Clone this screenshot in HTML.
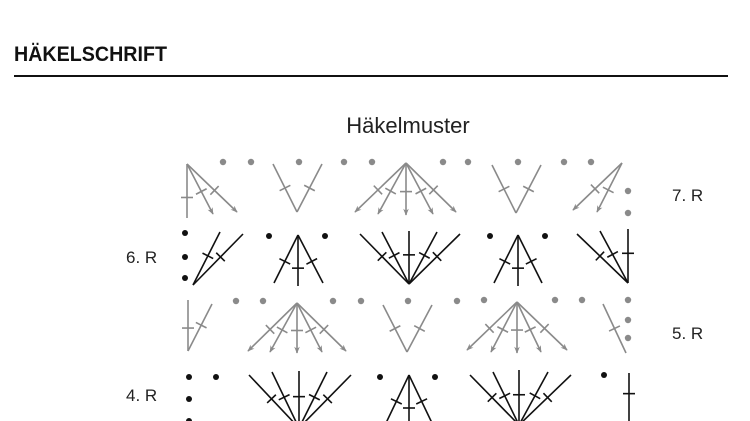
<!DOCTYPE html>
<html><head><meta charset="utf-8"><style>
html,body{margin:0;padding:0;background:#fff;width:750px;height:421px;overflow:hidden}
svg{display:block}
</style></head><body>
<svg id="s" width="750" height="421" viewBox="0 0 750 421" xmlns="http://www.w3.org/2000/svg">
<defs>
<marker id="ar" viewBox="0 0 10 10" refX="9" refY="5" markerWidth="7" markerHeight="7" orient="auto" markerUnits="userSpaceOnUse">
<path d="M0,1 L10,5 L0,9 L3,5 Z" fill="#8a8a8a"/>
</marker>
</defs>
<text x="14" y="61" font-family="Liberation Sans Narrow, Liberation Sans, sans-serif" font-weight="bold" font-size="21" fill="#111" textLength="153" lengthAdjust="spacingAndGlyphs">HÄKELSCHRIFT</text>
<rect x="14" y="75" width="714" height="2" fill="#111"/>
<text x="408" y="133" text-anchor="middle" font-family="Liberation Sans, sans-serif" font-size="22" fill="#222">Häkelmuster</text>
<g font-family="Liberation Sans, sans-serif" font-size="17" fill="#222">
<text x="672" y="201">7. R</text>
<text x="126" y="263">6. R</text>
<text x="672" y="339">5. R</text>
<text x="126" y="401">4. R</text>
</g>
<g id="g"></g>
</svg>
<script>
var g=document.getElementById('g'),NS='http://www.w3.org/2000/svg';
var G='#8a8a8a',B='#111';
function el(n,a){var e=document.createElementNS(NS,n);for(var k in a)e.setAttribute(k,a[k]);g.appendChild(e);return e;}
function st(x1,y1,x2,y2,c,arrow,t){
 el('line',{x1:x1,y1:y1,x2:x2,y2:y2,stroke:c,'stroke-width':1.6,'marker-end':arrow?'url(#ar)':''});
 t=t||0.55;var mx=x1+(x2-x1)*t,my=y1+(y2-y1)*t,dx=x2-x1,dy=y2-y1,L=Math.hypot(dx,dy),px=-dy/L*6,py=dx/L*6;
 el('line',{x1:mx-px,y1:my-py,x2:mx+px,y2:my+py,stroke:c,'stroke-width':1.6});
}
function dot(x,y,c){el('circle',{cx:x,cy:y,r:c==B?3:3.2,fill:c});}
// row 7 gray
[[223,162],[251,162],[299,162],[344,162],[372,162],[443,162],[468,162],[518,162],[564,162],[591,162],[628,191],[628,213]].forEach(function(p){dot(p[0],p[1],G)});
st(187,164,187,218,G,false,0.62);st(187,164,213,214,G,true);st(187,164,237,212,G,true);
st(273,164,297,212,G,false,0.5);st(322,164,297,212,G,false,0.5);
[[355,212],[378,214],[406,215],[433,214],[456,212]].forEach(function(p){st(406,163,p[0],p[1],G,true)});
st(492,165,516,213,G,false,0.5);st(541,165,516,213,G,false,0.5);
st(622,163,573,210,G,true);st(622,163,597,212,G,true);
// row 6 black
[[185,233],[185,257],[185,278],[269,236],[325,236],[490,236],[545,236]].forEach(function(p){dot(p[0],p[1],B)});
st(193,285,220,232,B);st(193,285,243,234,B);
st(298,235,274,283,B);st(298,235,323,283,B);st(298,286,298,235,B,false,0.35);
[[360,234],[382,232],[409,231],[437,232],[460,234]].forEach(function(p){st(409,284,p[0],p[1],B)});
st(518,235,494,283,B);st(518,235,542,283,B);st(518,286,518,235,B,false,0.35);
st(628,283,577,234,B);st(628,283,600,231,B);st(628,283,628,229,B);
// row 5 gray
[[236,301],[263,301],[333,301],[361,301],[408,301],[457,301],[484,300],[555,300],[582,300],[628,300],[628,320],[628,338]].forEach(function(p){dot(p[0],p[1],G)});
st(188,351,188,300,G,false,0.45);st(188,351,212,304,G);
[[248,351],[270,352],[297,353],[322,352],[346,351]].forEach(function(p){st(297,303,p[0],p[1],G,true)});
st(383,305,407,352,G,false,0.5);st(432,305,407,352,G,false,0.5);
[[467,350],[491,352],[517,353],[541,352],[567,350]].forEach(function(p){st(517,302,p[0],p[1],G,true)});
st(603,304,626,353,G,false,0.5);
// row 4 black
[[189,377],[216,377],[189,399],[189,421],[380,377],[435,377],[604,375]].forEach(function(p){dot(p[0],p[1],B)});
[[249,375],[272,372],[299,371],[327,372],[351,375]].forEach(function(p){st(299,428,p[0],p[1],B)});
st(409,375,386,423,B);st(409,375,432,423,B);st(409,430,409,375,B,false,0.4);
[[470,375],[493,372],[519,370],[548,372],[571,375]].forEach(function(p){st(519,425,p[0],p[1],B)});
st(629,421,629,373,B,false,0.57);
</script>
</body></html>
